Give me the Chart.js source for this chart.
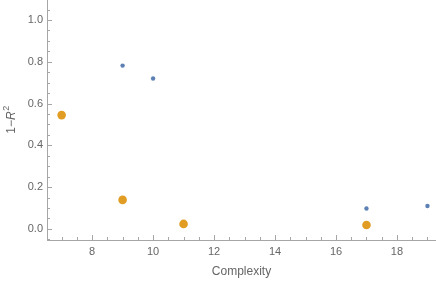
<!DOCTYPE html>
<html><head><meta charset="utf-8">
<script src="https://cdn.jsdelivr.net/npm/chart.js@4/dist/chart.umd.min.js"></script>
<style>html,body{margin:0;padding:0;background:#fff}#wrap{width:436px;height:284px}</style>
</head><body><div id="wrap"><canvas id="c" width="436" height="284"></canvas></div>
<script>
const blueX = [9, 10, 17, 19];
const blueY = [0.782, 0.72, 0.098, 0.11];
const orangeX = [7, 9, 11, 17];
const orangeY = [0.545, 0.139, 0.024, 0.019];
const xTicks = [8, 10, 12, 14, 16, 18];
const yTicks = [0.0, 0.2, 0.4, 0.6, 0.8, 1.0];
const xTitle = "Complexity";

const axisColor = '#a6a6a6';
const labelColor = '#666666';
const FONT = '"Liberation Sans", Arial, sans-serif';

const innerTicks = {
  id: 'innerTicks',
  afterDraw(chart) {
    const ctx = chart.ctx, ca = chart.chartArea;
    const xs = chart.scales.x, ys = chart.scales.y;
    ctx.save();
    ctx.strokeStyle = axisColor; ctx.lineWidth = 1;
    for (let v = Math.ceil(xs.min * 2) / 2; v <= xs.max; v += 0.5) {
      const major = Math.abs(v / 2 - Math.round(v / 2)) < 1e-6;
      const px = Math.round(xs.getPixelForValue(v)) + 0.5;
      ctx.beginPath(); ctx.moveTo(px, ca.bottom); ctx.lineTo(px, ca.bottom - (major ? 5 : 3)); ctx.stroke();
    }
    for (let i = Math.ceil(ys.min / 0.05); i * 0.05 <= ys.max + 1e-9; i++) {
      const v = i * 0.05;
      const major = i % 4 === 0;
      const py = Math.round(ys.getPixelForValue(v)) + 0.5;
      ctx.beginPath(); ctx.moveTo(ca.left, py); ctx.lineTo(ca.left + (major ? 5 : 3), py); ctx.stroke();
    }
    ctx.fillStyle = labelColor;
    ctx.font = '12px ' + FONT;
    ctx.textAlign = 'center'; ctx.textBaseline = 'middle';
    ctx.fillText(xTitle, (ca.left + ca.right) / 2, 272);
    ctx.translate(12, 120);
    ctx.rotate(-Math.PI / 2);
    const p1 = '1\u2212', p2 = 'R', p3 = '2';
    ctx.font = '12px ' + FONT; const w1 = ctx.measureText(p1).width;
    ctx.font = 'italic 12px ' + FONT; const w2 = ctx.measureText(p2).width;
    ctx.font = '9px ' + FONT; const w3 = ctx.measureText(p3).width;
    let x0 = -(w1 + w2 + w3) / 2;
    ctx.textAlign = 'left';
    ctx.font = '12px ' + FONT; ctx.fillText(p1, x0, 0); x0 += w1;
    ctx.font = 'italic 12px ' + FONT; ctx.fillText(p2, x0, 0); x0 += w2 + 0.5;
    ctx.font = '9px ' + FONT; ctx.fillText(p3, x0, -5);
    ctx.restore();
  }
};

new Chart(document.getElementById('c'), {
  type: 'scatter',
  data: {
    datasets: [
      { data: blueX.map((x, i) => ({ x, y: blueY[i] })), backgroundColor: '#5E81B5', borderWidth: 0, pointRadius: 2.2, pointHoverRadius: 2.2 },
      { data: orangeX.map((x, i) => ({ x, y: orangeY[i] })), backgroundColor: '#E19C24', borderWidth: 0, pointRadius: 4.3, pointHoverRadius: 4.3 }
    ]
  },
  options: {
    responsive: false, animation: false,
    layout: { padding: 0, autoPadding: false },
    plugins: { legend: { display: false }, tooltip: { enabled: false } },
    scales: {
      x: {
        type: 'linear', min: 6.52, max: 19.28,
        grid: { display: false, drawTicks: false },
        border: { display: true, color: axisColor, width: 1 },
        ticks: { stepSize: 2, includeBounds: false, padding: 5, color: labelColor, font: { family: FONT, size: 11 },
          callback: v => xTicks.includes(v) ? String(v) : '' },
        afterFit: s => { s.height = 44; s.paddingLeft = 0; s.paddingRight = 0; }
      },
      y: {
        type: 'linear', min: -0.053, max: 1.096,
        grid: { display: false, drawTicks: false },
        border: { display: true, color: axisColor, width: 1 },
        ticks: { stepSize: 0.2, includeBounds: false, padding: 4, color: labelColor, font: { family: FONT, size: 11 },
          callback: v => { const m = yTicks.find(t => Math.abs(t - v) < 1e-6); return m === undefined ? '' : m.toFixed(1); } },
        afterFit: s => { s.width = 47; s.paddingTop = 0; s.paddingBottom = 0; }
      }
    }
  },
  plugins: [innerTicks]
});
</script></body></html>
